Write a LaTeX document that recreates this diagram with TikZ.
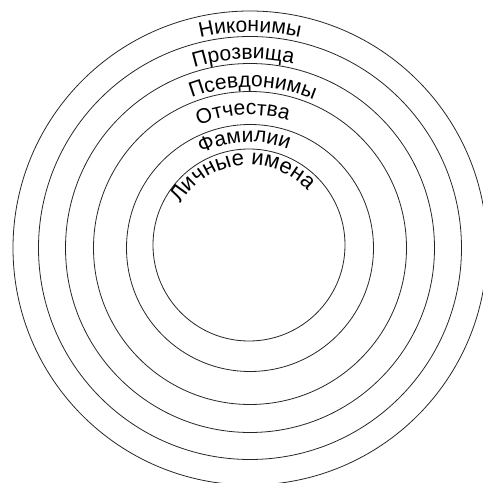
\documentclass[tikz,border=0pt]{standalone}
\usepackage{fontspec}
\setmainfont{Liberation Sans}
\usetikzlibrary{decorations.text}

\newcommand\ringfont{\fontsize{21}{22}\selectfont}
\newcommand\innerfont{\fontsize{22}{23}\selectfont}
\tikzset{
  ring/.style={draw=black!85,line width=0.8pt},
  ringtext/.style={decorate,decoration={text along path,
      text align=center,text={|\ringfont|#1}}}
}

\begin{document}
\begin{tikzpicture}[x=1pt,y=1pt]
  \useasboundingbox (0,0) rectangle (483,483);
  \clip (0,0) rectangle (483,483);
  \coordinate (c) at (250,235);
  \coordinate (ci) at (249,238);
  % rings
  \draw[ring] (ci) circle[radius=96];
  \foreach \r in {123.5,156.5,184.5,211.5,237}
    \draw[ring] (c) circle[radius=\r];
  % names along the rings
  \path[ringtext=Никонимы] ([shift={(140:216)}]c) arc[start angle=140,end angle=40,radius=216];
  \path[ringtext=Прозвища] ([shift={(142:189)}]c) arc[start angle=142,end angle=42,radius=189];
  \path[ringtext=Псевдонимы] ([shift={(139:161)}]c) arc[start angle=139,end angle=39,radius=161];
  \path[ringtext=Отчества] ([shift={(143:133)}]c) arc[start angle=143,end angle=43,radius=133];
  \path[ringtext=Фамилии] ([shift={(143:106)}]c) arc[start angle=143,end angle=43,radius=106];
  \path[decorate,decoration={text along path,text align=center,
      text={|\innerfont|Личные имена}}]
    ([shift={(157:80)}]ci) arc[start angle=157,end angle=35,radius=80];
\end{tikzpicture}
\end{document}
